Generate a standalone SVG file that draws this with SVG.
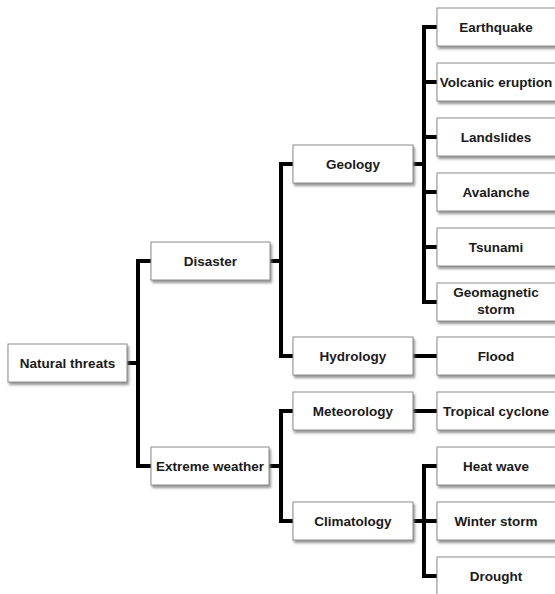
<svg xmlns="http://www.w3.org/2000/svg" width="555" height="594" viewBox="0 0 555 594">
<defs>
<filter id="sh" x="-10%" y="-20%" width="130%" height="160%">
<feDropShadow dx="1.5" dy="2.5" stdDeviation="1.3" flood-color="#7a7a7a" flood-opacity="0.8"/>
</filter>
</defs>
<style>
.box{fill:#fff;stroke:#8c8c8c;stroke-width:1;filter:url(#sh)}
.t{font-family:"Liberation Sans",Arial,sans-serif;font-weight:bold;font-size:13.5px;fill:#1a1a1a;text-anchor:middle}
.c{fill:none;stroke:#000;stroke-width:4;stroke-linejoin:miter;stroke-linecap:butt}
</style>
<rect width="555" height="594" fill="#fff"/>
<g id="connectors" class="c">
<path d="M127,363 H138 M151,261 H138 V466 H151"/>
<path d="M270,261 H281 M293,164 H281 V356 H293"/>
<path d="M269,466 H281 M293,411 H281 V521 H293"/>
<path d="M413,164 H424 M437,27 H424 V302 H437 M424,82 H437 M424,137 H437 M424,192 H437 M424,247 H437"/>
<path d="M413,356 H437"/>
<path d="M413,411 H437"/>
<path d="M413,521 H437 M437,466 H424 V576 H437"/>
</g>
<g id="natural-threats"><rect class="box" x="8" y="344" width="119" height="38"/><text class="t" x="67.5" y="368">Natural threats</text></g>
<g id="disaster"><rect class="box" x="151" y="242" width="119" height="38"/><text class="t" x="210.5" y="266">Disaster</text></g>
<g id="extreme-weather"><rect class="box" x="151" y="447" width="118" height="38"/><text class="t" x="210" y="471">Extreme weather</text></g>
<g id="geology"><rect class="box" x="293" y="145" width="120" height="38"/><text class="t" x="353" y="169">Geology</text></g>
<g id="hydrology"><rect class="box" x="293" y="337" width="120" height="38"/><text class="t" x="353" y="361">Hydrology</text></g>
<g id="meteorology"><rect class="box" x="293" y="392" width="120" height="38"/><text class="t" x="353" y="416">Meteorology</text></g>
<g id="climatology"><rect class="box" x="293" y="502" width="120" height="38"/><text class="t" x="353" y="526">Climatology</text></g>
<g id="earthquake"><rect class="box" x="437" y="8" width="120" height="38"/><text class="t" x="496" y="32">Earthquake</text></g>
<g id="volcanic-eruption"><rect class="box" x="437" y="63" width="120" height="38"/><text class="t" x="496" y="87">Volcanic eruption</text></g>
<g id="landslides"><rect class="box" x="437" y="118" width="120" height="38"/><text class="t" x="496" y="142">Landslides</text></g>
<g id="avalanche"><rect class="box" x="437" y="173" width="120" height="38"/><text class="t" x="496" y="197">Avalanche</text></g>
<g id="tsunami"><rect class="box" x="437" y="228" width="120" height="38"/><text class="t" x="496" y="252">Tsunami</text></g>
<g id="geomagnetic-storm"><rect class="box" x="437" y="283" width="120" height="38"/><text class="t" x="496" y="297">Geomagnetic</text><text class="t" x="496" y="314">storm</text></g>
<g id="flood"><rect class="box" x="437" y="337" width="120" height="38"/><text class="t" x="496" y="361">Flood</text></g>
<g id="tropical-cyclone"><rect class="box" x="437" y="392" width="120" height="38"/><text class="t" x="496" y="416">Tropical cyclone</text></g>
<g id="heat-wave"><rect class="box" x="437" y="447" width="120" height="38"/><text class="t" x="496" y="471">Heat wave</text></g>
<g id="winter-storm"><rect class="box" x="437" y="502" width="120" height="38"/><text class="t" x="496" y="526">Winter storm</text></g>
<g id="drought"><rect class="box" x="437" y="557" width="120" height="38"/><text class="t" x="496" y="581">Drought</text></g>
</svg>
